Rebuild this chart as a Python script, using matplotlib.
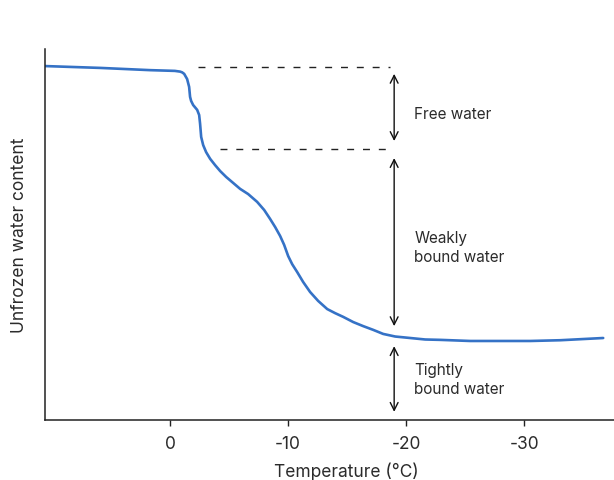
import matplotlib
matplotlib.use("Agg")
import matplotlib.pyplot as plt

plt.rcParams['font.family'] = ['Inter', 'DejaVu Sans']

# unfrozen water curve
temperature = [10.6, 5.9, 1.7, -0.4, -0.85, -1.02, -1.19, -1.44, -1.61, -1.69,
               -1.78, -1.95, -2.29, -2.46, -2.54, -2.63, -2.80, -3.05, -3.39,
               -3.81, -4.24, -4.75, -5.34, -5.93, -6.61, -7.37, -7.97, -8.47,
               -8.90, -9.32, -9.66, -10.0, -10.34, -10.76, -11.27, -11.86,
               -12.54, -13.31, -13.98, -14.66, -15.51, -16.36, -17.20, -18.05,
               -19.07, -20.34, -21.61, -22.88, -25.42, -27.97, -30.51, -33.05,
               -36.69]
water_content = [95.4, 94.9, 94.3, 94.1, 93.9, 93.7, 93.3, 91.9, 89.8, 87.1,
                 86.0, 84.9, 83.6, 82.2, 79.8, 76.3, 74.1, 72.2, 70.4,
                 68.7, 67.1, 65.5, 63.9, 62.3, 60.9, 58.8, 56.6, 54.2,
                 52.0, 49.6, 47.2, 44.2, 42.0, 39.9, 37.2, 34.5,
                 32.1, 29.9, 28.8, 27.8, 26.4, 25.3, 24.3, 23.2,
                 22.5, 22.1, 21.7, 21.6, 21.3, 21.3, 21.3, 21.5,
                 22.1]

# water fractions: (label, top, bottom)
fractions = [
    ("Free water", 93.3, 75.2),
    ("Weakly\nbound water", 70.6, 25.3),
    ("Tightly\nbound water", 19.9, 2.2),
]
fraction_label_y = [82.7, 46.6, 11.1]

# dashed guide lines: (level, start temperature)
guides = [(95.1, -2.37), (73.0, -4.24)]
guide_end = -18.6
arrow_x = -18.98
label_x = -20.68

xticks = [0, -10, -20, -30]

fig = plt.figure(figsize=(6.14, 4.81), dpi=100)
ax = fig.add_axes([45 / 614, 60 / 481, 602 / 614, 371 / 481])

ax.plot(temperature, water_content, color='#3572c6', lw=1.9,
        solid_capstyle='round', solid_joinstyle='round')

for level, start in guides:
    ax.plot([start, guide_end], [level, level], color='#222222', lw=1.0,
            linestyle=(0, (5.0, 6.4)))

text_color = '#2b2b2b'
for (label, top, bottom), ly in zip(fractions, fraction_label_y):
    ax.annotate('', xy=(arrow_x, bottom), xytext=(arrow_x, top),
                arrowprops=dict(arrowstyle='<->', color='#111111', lw=1.0,
                                mutation_scale=14, shrinkA=0, shrinkB=0))
    ax.text(label_x, ly, label, fontsize=11, color=text_color,
            ha='left', va='center', linespacing=1.35)

ax.set_xlim(10.6, -40.4)
ax.set_ylim(0, 100)
ax.set_xticks(xticks)
ax.set_xticklabels([str(t) for t in xticks], fontsize=12.5, color=text_color)
ax.set_yticks([])
ax.tick_params(axis='x', direction='out', length=4, width=1, color='#222222', pad=7)

for side in ['top', 'right']:
    ax.spines[side].set_visible(False)
for side in ['left', 'bottom']:
    ax.spines[side].set_linewidth(1.1)
    ax.spines[side].set_color('#222222')

ax.set_xlabel("Temperature (°C)", fontsize=12.5, color=text_color, labelpad=7)
ax.set_ylabel("Unfrozen water content", fontsize=12.5, color=text_color, labelpad=12)

fig.savefig("out.png", dpi=100, facecolor='white')
